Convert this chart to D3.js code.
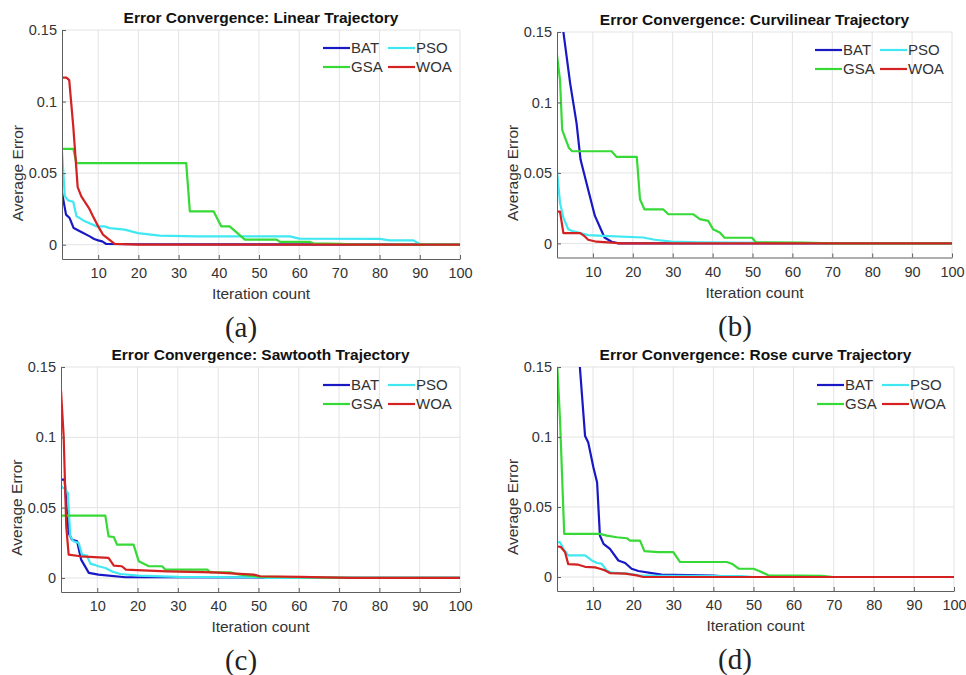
<!DOCTYPE html>
<html>
<meta charset="utf-8" />
<title>Error convergence</title>
<head>
    <script src="https://d3js.org/d3.v7.min.js"></script>
    <style>
        body { margin: 0; background: #fff; }
        text { font-family: "Liberation Sans", Arial, sans-serif; }
    </style>
</head>
<body>
<div id="chart"></div>
<script type="text/javascript">
// [iteration, average error] pairs
// (a) Linear trajectory
var linBAT = [[1,0.0365],[2,0.021],[2.9,0.0186],[3.9,0.0116],[5.8,0.0088],[7.9,0.0058],[9,0.004],[10,0.003],[11,0.0023],[12,0.0005],[20,0.0003],[40,0.0002],[100,0]];
var linPSO = [[1,0.065],[1.7,0.034],[2.5,0.031],[3.8,0.030],[4.6,0.0198],[5.4,0.0186],[6.7,0.0163],[9.6,0.0128],[11.6,0.0128],[12.9,0.0116],[16.6,0.0105],[19.9,0.0081],[25.3,0.0063],[34.5,0.0058],[57.7,0.0058],[60,0.0042],[80,0.004],[82.5,0.003],[88.4,0.003],[90,0.0005],[100,0.0002]];
var linGSA = [[1,0.067],[3.8,0.067],[4.6,0.057],[31.9,0.057],[32.8,0.0233],[38.7,0.0233],[40.6,0.0128],[42.7,0.0128],[46.5,0.0035],[54.4,0.0035],[55.2,0.0019],[62.7,0.0019],[63.5,0.001],[70,0.0005],[75,0],[100,0]];
var linWOA = [[1,0.1167],[2.1,0.1167],[2.8,0.115],[3.8,0.0826],[4.9,0.0402],[5.8,0.0337],[7.7,0.0256],[8.7,0.0198],[10,0.0128],[11.2,0.007],[12.5,0.004],[14.1,0.0005],[20,0],[100,0]];

// (b) Curvilinear trajectory
var curBAT = [[1,0.185],[2,0.165],[2.6,0.15],[4.3,0.1136],[5.9,0.0853],[6.9,0.0595],[8.8,0.0383],[10.5,0.0195],[11.8,0.0113],[12.9,0.0042],[14.7,0.0012],[16.4,0],[100,0]];
var curPSO = [[1,0.0513],[1.75,0.0289],[2.6,0.0183],[3.8,0.0101],[4.7,0.0089],[8.8,0.0059],[12.6,0.0054],[22.6,0.0042],[25.5,0.0026],[29.7,0.0012],[36.4,0.0007],[60,0.0003],[70,0],[100,0]];
var curGSA = [[1,0.1336],[1.75,0.116],[2.3,0.0806],[3.2,0.0736],[4,0.0677],[4.8,0.0654],[14.7,0.0654],[15.9,0.0614],[21,0.0614],[21.8,0.0313],[22.9,0.0242],[27.6,0.0242],[28.9,0.0207],[35.1,0.0207],[36.8,0.0172],[38.9,0.016],[40.1,0.0101],[41.8,0.0078],[43,0.004],[49.9,0.004],[50.9,0.0007],[62.6,0.0005],[70,0],[100,0]];
var curWOA = [[1,0.0226],[1.75,0.0226],[2.6,0.0073],[6.8,0.0073],[7.8,0.0054],[8.8,0.0026],[10.9,0.0012],[14.7,0.0005],[17,0],[100,0]];

// (c) Sawtooth trajectory
var sawBAT = [[1,0.0699],[1.9,0.0699],[2.5,0.0462],[2.9,0.032],[3.7,0.0273],[5,0.0261],[6,0.013],[7.9,0.0036],[10.3,0.0024],[17,0.0005],[50,0.0004],[52,0],[100,0]];
var sawPSO = [[1,0.0652],[2.1,0.0628],[2.7,0.0604],[3.3,0.0296],[4.1,0.0261],[5.4,0.0249],[6.2,0.0166],[7.4,0.0159],[8.3,0.0102],[9.1,0.0095],[10.3,0.0083],[12,0.0071],[13.6,0.0047],[15.7,0.0028],[20.3,0.0017],[30.2,0.0007],[50,0.0005],[52,0],[100,0]];
var sawGSA = [[1,0.0443],[12,0.0443],[12.8,0.0296],[14.1,0.0291],[14.9,0.0237],[19,0.0237],[20.3,0.0118],[22.8,0.0083],[26.1,0.0083],[26.9,0.0059],[37.3,0.0059],[38,0.004],[43,0.004],[45,0.0025],[50,0.001],[60,0.0005],[75,0],[100,0]];
var sawWOA = [[1,0.1334],[1.66,0.1007],[2.3,0.0367],[2.9,0.0166],[5.8,0.0154],[12.8,0.0142],[14.1,0.0088],[16.1,0.0083],[17.1,0.0059],[19.8,0.0055],[27.3,0.0047],[38.8,0.004],[48.8,0.0024],[50.4,0.0012],[60.3,0.0007],[72.7,0],[100,0]];

// (d) Rose curve trajectory
var roseBAT = [[1,0.35],[4,0.25],[6,0.17],[6.7,0.15],[8,0.1007],[8.8,0.096],[10.1,0.078],[11,0.0675],[11.7,0.0296],[12.6,0.0237],[14.2,0.0201],[16.3,0.0118],[18,0.01],[19.6,0.0059],[21.3,0.0043],[24.6,0.0028],[27.1,0.0017],[40,0.001],[45,0],[100,0]];
var rosePSO = [[1,0.0249],[1.75,0.0249],[2.6,0.0201],[3.8,0.0154],[8,0.0154],[9.7,0.0118],[11,0.01],[12.1,0.0095],[13.4,0.0047],[14.6,0.0031],[18.8,0.0024],[21.3,0.0012],[26.3,0.0009],[47,0.0007],[50,0],[100,0]];
var roseGSA = [[1,0.155],[1.75,0.1125],[2.8,0.0308],[11.7,0.0308],[13.4,0.0296],[15.9,0.0284],[18.4,0.0277],[19.2,0.026],[21.7,0.026],[22.8,0.0185],[26.3,0.0178],[30,0.0178],[31.7,0.0107],[43.3,0.0107],[44.6,0.0095],[46.3,0.0059],[50,0.0059],[52,0.0036],[53.7,0.0012],[67,0.0009],[70,0],[100,0]];
var roseWOA = [[1,0.022],[2,0.0213],[3,0.0178],[3.8,0.0092],[6.3,0.0088],[8,0.0073],[10.5,0.0069],[11.7,0.0059],[13,0.0047],[14.2,0.0028],[18,0.0024],[20.9,0.0012],[22.5,0],[100,0]];

var seriesNames = ["BAT", "PSO", "GSA", "WOA"];
var seriesColors = ["#1818c4", "#40e8f2", "#36d936", "#d42222"];
var xTicks = [10, 20, 30, 40, 50, 60, 70, 80, 90, 100];
var yTicks = [0, 0.05, 0.1, 0.15];
var titles = ["Error Convergence: Linear Trajectory", "Error Convergence: Curvilinear Trajectory",
              "Error Convergence: Sawtooth Trajectory", "Error Convergence: Rose curve Trajectory"];
var captions = ["(a)", "(b)", "(c)", "(d)"];

var panelData = [
    [linBAT, linPSO, linGSA, linWOA],
    [curBAT, curPSO, curGSA, curWOA],
    [sawBAT, sawPSO, sawGSA, sawWOA],
    [roseBAT, rosePSO, roseGSA, roseWOA]
];

// plot boxes: left, top, right, bottom, caption centre
var boxes = [
    {l: 62, t: 30, r: 460, b: 259, cx: 241},
    {l: 557, t: 32, r: 952, b: 257.5, cx: 735},
    {l: 61, t: 367, r: 460, b: 592, cx: 241},
    {l: 557, t: 367, r: 954, b: 591, cx: 735}
];

var svg = d3.select("#chart").append("svg")
    .attr("width", 966)
    .attr("height", 675)
    .style("display", "block");

svg.append("rect").attr("width", 966).attr("height", 675).attr("fill", "#fff");

boxes.forEach(function(box, p) {
    var x = d3.scaleLinear().domain([1, 100]).range([box.l, box.r]);
    var y = d3.scaleLinear().domain([-0.01, 0.15]).range([box.b, box.t]);
    var g = svg.append("g");

    var clipId = "clip" + p;
    svg.append("clipPath").attr("id", clipId)
        .append("rect")
        .attr("x", box.l).attr("y", box.t)
        .attr("width", box.r - box.l).attr("height", box.b - box.t);

    // grid
    g.selectAll(".gx").data(xTicks).enter().append("line")
        .attr("x1", d => x(d)).attr("x2", d => x(d))
        .attr("y1", box.t).attr("y2", box.b)
        .attr("stroke", "#e3e3e3").attr("stroke-width", 1);
    g.selectAll(".gy").data(yTicks).enter().append("line")
        .attr("x1", box.l).attr("x2", box.r)
        .attr("y1", d => y(d)).attr("y2", d => y(d))
        .attr("stroke", "#e3e3e3").attr("stroke-width", 1);

    // lines
    var line = d3.line().x(d => x(d[0])).y(d => y(d[1]));
    var lg = g.append("g").attr("clip-path", "url(#" + clipId + ")");
    panelData[p].forEach(function(s, k) {
        lg.append("path")
            .datum(s)
            .attr("d", line)
            .attr("fill", "none")
            .attr("stroke", seriesColors[k])
            .attr("stroke-width", 2.2)
            .attr("stroke-linejoin", "round");
    });

    // axes
    var xAxis = g.append("g")
        .attr("transform", "translate(0," + box.b + ")")
        .call(d3.axisBottom(x).tickValues(xTicks).tickSizeInner(-4).tickSizeOuter(0).tickPadding(9));
    var yAxis = g.append("g")
        .attr("transform", "translate(" + box.l + ",0)")
        .call(d3.axisLeft(y).tickValues(yTicks).tickSizeInner(-4).tickSizeOuter(0).tickPadding(5)
            .tickFormat(d => d3.format("")(d)));
    [xAxis, yAxis].forEach(function(a) {
        a.select(".domain").attr("stroke", "#5f5f5f");
        a.selectAll(".tick line").attr("stroke", "#5f5f5f");
        a.selectAll("text").attr("fill", "#333").style("font-size", "14.5px")
            .style("font-family", "'Liberation Sans', Arial, sans-serif");
    });

    // title
    g.append("text")
        .attr("x", (box.l + box.r) / 2).attr("y", box.t - 7)
        .attr("text-anchor", "middle")
        .attr("fill", "#111")
        .style("font-size", "15.5px").style("font-weight", "bold")
        .text(titles[p]);

    // axis labels
    g.append("text")
        .attr("x", (box.l + box.r) / 2).attr("y", box.b + 40)
        .attr("text-anchor", "middle").attr("fill", "#333")
        .style("font-size", "15.5px")
        .text("Iteration count");
    g.append("text")
        .attr("transform", "translate(" + (box.l - 39) + "," + y(0.05) + ") rotate(-90)")
        .attr("text-anchor", "middle").attr("fill", "#333")
        .style("font-size", "15.5px")
        .text("Average Error");

    // caption
    g.append("text")
        .attr("x", box.cx).attr("y", box.b + 78)
        .attr("text-anchor", "middle").attr("fill", "#222")
        .style("font-family", "'Liberation Serif', 'DejaVu Serif', serif")
        .style("font-size", "29px")
        .text(captions[p]);

    // legend, two columns
    var legendOrder = [[0, 0], [1, 65], [2, 0], [3, 65]];
    legendOrder.forEach(function(o, i) {
        var k = o[0];
        var lx = box.r - 137 + o[1];
        var ly = box.t + 18 + Math.floor(i / 2) * 19;
        g.append("line")
            .attr("x1", lx).attr("x2", lx + 27)
            .attr("y1", ly).attr("y2", ly)
            .attr("stroke", seriesColors[k]).attr("stroke-width", 2.2);
        g.append("text")
            .attr("x", lx + 28).attr("y", ly + 5)
            .attr("fill", "#333").style("font-size", "15px")
            .text(seriesNames[k]);
    });
});
</script>
</body>
</html>
